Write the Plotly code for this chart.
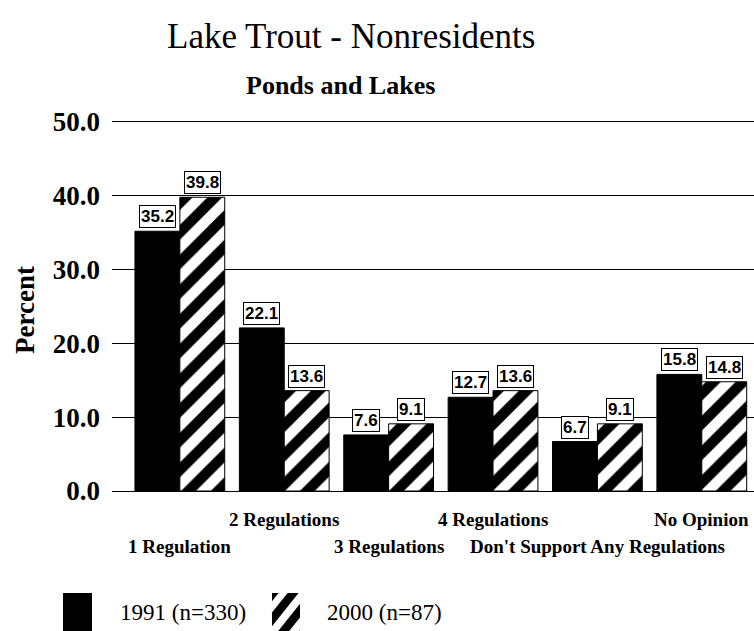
import plotly.graph_objects as go

# Survey responses: number of regulations supported (lake trout, ponds and lakes)
categories = ["1 Regulation", "2 Regulations", "3 Regulations", "4 Regulations",
              "Don't Support Any Regulations", "No Opinion"]
pct_1991 = [35.2, 22.1, 7.6, 12.7, 6.7, 15.8]
pct_2000 = [39.8, 13.6, 9.1, 13.6, 9.1, 14.8]
series_names = ["1991 (n=330)", "2000 (n=87)"]
y_ticks = [0, 10, 20, 30, 40, 50]

W, H = 754, 631
L, R, T, B = 112, 0, 122, 140
PW, PH = W - L - R, H - T - B

def px(x):
    return (x - L) / PW

def py(y):
    return (H - B - y) / PH

SERIF = "Liberation Serif, Times New Roman, serif"
NARROW = "Liberation Sans Narrow, Arial Narrow, Liberation Sans, sans-serif"

idx = list(range(len(categories)))
BAR_W = 0.43

fig = go.Figure()
fig.add_trace(go.Bar(
    x=idx, y=pct_1991, name=series_names[0],
    marker=dict(color="black", line=dict(color="black", width=1)),
    showlegend=False,
))
fig.add_trace(go.Bar(
    x=idx, y=pct_2000, name=series_names[1],
    marker=dict(color="white", line=dict(color="black", width=1),
                pattern=dict(shape="/", fgcolor="black", bgcolor="white",
                             fgopacity=1, size=21, solidity=0.5)),
    showlegend=False,
))

annotations = []
# value boxes above each bar
for i in idx:
    for val, off in ((pct_1991[i], -BAR_W / 2), (pct_2000[i], BAR_W / 2)):
        annotations.append(dict(
            x=i + off, y=val, xref="x", yref="y", text=f"<b>{val:.1f}</b>",
            showarrow=False, yanchor="bottom", yshift=3,
            font=dict(family=NARROW, size=17, color="black"),
            bgcolor="white", bordercolor="black", borderwidth=1, borderpad=1,
        ))

# staggered category labels
for i, name in enumerate(categories):
    row_y = 519 if i % 2 else 546
    annotations.append(dict(
        x=i, y=py(row_y), xref="x", yref="paper", text=f"<b>{name}</b>",
        showarrow=False, xanchor="center", yanchor="middle",
        font=dict(family=SERIF, size=19, color="black"),
    ))


def paper_text(x, y, text, size, xanchor="center", angle=0):
    return dict(x=px(x), y=py(y), xref="paper", yref="paper", text=text,
                showarrow=False, xanchor=xanchor, yanchor="middle",
                textangle=angle, font=dict(family=SERIF, size=size, color="black"))


# titles
annotations.append(paper_text(351, 36, "Lake Trout - Nonresidents", 35))
annotations.append(paper_text(340, 86, "<b>Ponds and Lakes</b>", 26))
annotations.append(paper_text(25, 310, "<b>Percent</b>", 27, angle=-90))


def clip_poly(poly, x0, y0, x1, y1):
    """Clip a polygon (pixel coords) to an axis-aligned box."""
    def clip(points, inside, cross):
        out = []
        for k in range(len(points)):
            cur, prev = points[k], points[k - 1]
            if inside(cur):
                if not inside(prev):
                    out.append(cross(prev, cur))
                out.append(cur)
            elif inside(prev):
                out.append(cross(prev, cur))
        return out

    def xcut(xc):
        return lambda p, q: (xc, p[1] + (q[1] - p[1]) * (xc - p[0]) / (q[0] - p[0]))

    def ycut(yc):
        return lambda p, q: (p[0] + (q[0] - p[0]) * (yc - p[1]) / (q[1] - p[1]), yc)

    pts = poly
    for inside, cross in ((lambda p: p[0] >= x0, xcut(x0)), (lambda p: p[0] <= x1, xcut(x1)),
                          (lambda p: p[1] >= y0, ycut(y0)), (lambda p: p[1] <= y1, ycut(y1))):
        if not pts:
            break
        pts = clip(pts, inside, cross)
    return pts


# legend: solid swatch
shapes = [dict(type="rect", xref="paper", yref="paper",
               x0=px(63), x1=px(92), y0=py(593), y1=py(640),
               fillcolor="black", line=dict(width=0))]
# legend: hatched swatch built from clipped diagonal bands
bx0, by0, bx1, by1 = 272, 593, 300, 640
slope = 0.8
for c0, c1 in ((735, 753), (762, 773), (783, 794), (804, 815), (825, 836)):
    band = [(c0 - slope * by1, by1), (c1 - slope * by1, by1),
            (c1 - slope * by0, by0), (c0 - slope * by0, by0)]
    pts = clip_poly(band, bx0, by0, bx1, by1)
    if len(pts) >= 3:
        path = "M " + " L ".join(f"{px(x):.5f},{py(y):.5f}" for x, y in pts) + " Z"
        shapes.append(dict(type="path", xref="paper", yref="paper", path=path,
                           fillcolor="black", line=dict(width=0)))

annotations.append(paper_text(118, 612, series_names[0], 23, xanchor="left"))
annotations.append(paper_text(325, 612, series_names[1], 23, xanchor="left"))

fig.update_layout(
    width=W, height=H,
    margin=dict(l=L, r=R, t=T, b=B),
    paper_bgcolor="white", plot_bgcolor="white",
    barmode="group", bargap=0.14, bargroupgap=0,
    annotations=annotations, shapes=shapes,
    xaxis=dict(range=[-0.65, 5.5], showticklabels=False, showgrid=False,
               zeroline=False, showline=True, mirror=True,
               linecolor="black", linewidth=1),
    yaxis=dict(range=[0, 50], tickvals=y_ticks, tickformat=".1f",
               showgrid=True, gridcolor="black", gridwidth=1,
               zeroline=True, zerolinecolor="black", zerolinewidth=1,
               showline=False, ticks="", ticklabelstandoff=11,
               tickfont=dict(family=SERIF, size=27, color="black", weight="bold")),
    font=dict(family=SERIF, color="black"),
)

fig.write_html("out.html")
